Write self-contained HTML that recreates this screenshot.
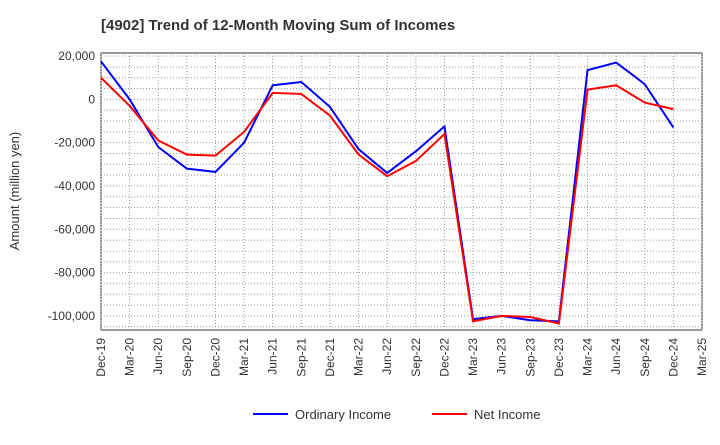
<!DOCTYPE html>
<html><head><meta charset="utf-8"><style>
body{margin:0;background:#fff;font-family:"Liberation Sans",sans-serif;}
svg text{font-family:"Liberation Sans",sans-serif;}
</style></head><body>
<svg id="chart" width="720" height="440">
<text x="101" y="30" font-size="15" font-weight="bold" fill="#333">[4902]  Trend of 12-Month Moving Sum of Incomes</text>
<g id="grid"></g><g id="axes"></g><g id="series"></g>
<text transform="translate(19,191) rotate(-90)" text-anchor="middle" font-size="13" fill="#333">Amount (million yen)</text>
<g>
<line x1="253" y1="414" x2="288" y2="414" stroke="#0000ff" stroke-width="2"/>
<text x="295" y="419" font-size="13" fill="#333">Ordinary Income</text>
<line x1="432" y1="414" x2="467" y2="414" stroke="#ff0000" stroke-width="2"/>
<text x="474" y="419" font-size="13" fill="#333">Net Income</text>
</g>
</svg>
<script>
const categories=["Dec-19","Mar-20","Jun-20","Sep-20","Dec-20","Mar-21","Jun-21","Sep-21","Dec-21","Mar-22","Jun-22","Sep-22","Dec-22","Mar-23","Jun-23","Sep-23","Dec-23","Mar-24","Jun-24","Sep-24","Dec-24","Mar-25"];
const ordinaryIncome=[17500,0,-22000,-32000,-33500,-20000,6500,8000,-3500,-23000,-34000,-24000,-12500,-101500,-100000,-102000,-102500,13500,17000,7000,-13000];
const netIncome=[10000,-3000,-19000,-25500,-26000,-15000,3000,2500,-7500,-25500,-35500,-28500,-16000,-102500,-100000,-100500,-103500,4500,6500,-1500,-4500];
const yTicks=[20000,0,-20000,-40000,-60000,-80000,-100000];
const L=101,R=702,T=53,B=330,yMax=21400,yMin=-106500;
const xs=i=>L+(R-L)*i/(categories.length-1);
const ys=v=>T+(yMax-v)/(yMax-yMin)*(B-T);
const NS="http://www.w3.org/2000/svg";
function mk(p,t,a){const e=document.createElementNS(NS,t);for(const k in a)e.setAttribute(k,a[k]);p.appendChild(e);return e;}
const grid=document.getElementById('grid'),axes=document.getElementById('axes'),series=document.getElementById('series');
mk(grid,'rect',{x:L,y:T,width:R-L,height:B-T,fill:'#fff',stroke:'#333'});
categories.forEach((c,i)=>{const x=xs(i);
 const g=mk(grid,'line',{x1:x,y1:T,x2:x,y2:B,stroke:'#999','stroke-dasharray':'1,2'});
 
 const t=mk(axes,'text',{transform:`translate(${x+4},${B+8}) rotate(-90)`,'text-anchor':'end','font-size':12,fill:'#333'});
 t.textContent=c;
 });
for(let v=20000;v>=-105000;v-=5000){const y=ys(v);
 const g=mk(grid,'line',{x1:L,y1:y,x2:R,y2:y,stroke:'#999','stroke-dasharray':'1,2'});
 }
yTicks.forEach(v=>{const y=ys(v);
 const t=mk(axes,'text',{x:L-6,y:y+4,'text-anchor':'end','font-size':12,fill:'#333'});
 t.textContent=v.toLocaleString('en-US');
 });
function line(d,col,name){const p=mk(series,'polyline',{points:d.map((v,i)=>xs(i)+','+ys(v)).join(' '),fill:'none',stroke:col,'stroke-width':2});
 }
line(ordinaryIncome,'#0000ff','ordinary-income-line');
line(netIncome,'#ff0000','net-income-line');
</script>
</body></html>
